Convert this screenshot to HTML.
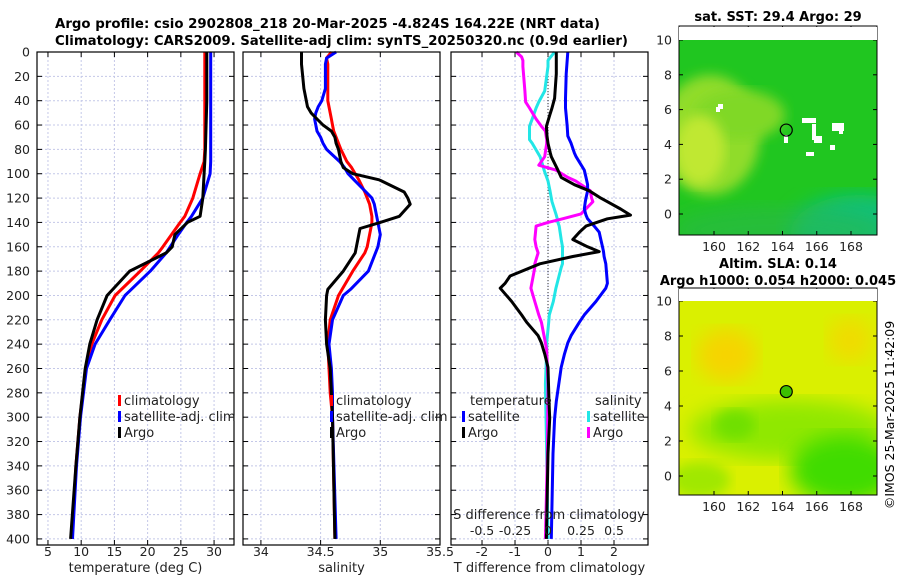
<!DOCTYPE html>
<html><head><meta charset="utf-8">
<style>
html,body{margin:0;padding:0;background:#fff;}
svg text{font-family:"DejaVu Sans","Liberation Sans",sans-serif;}
</style></head>
<body>
<svg id="chart" width="900" height="580" viewBox="0 0 900 580" xmlns="http://www.w3.org/2000/svg">
<defs>
<filter id="blur6"><feGaussianBlur stdDeviation="6"/></filter>
<filter id="blur10"><feGaussianBlur stdDeviation="10"/></filter>
<clipPath id="clipM1"><rect x="679" y="40" width="198" height="195"/></clipPath>
<clipPath id="clipM2"><rect x="679" y="301" width="198" height="194"/></clipPath>
</defs>
<text x="55" y="28" font-size="13.2" font-weight="bold" textLength="545" lengthAdjust="spacingAndGlyphs">Argo profile: csio 2902808_218 20-Mar-2025 -4.824S 164.22E (NRT data)</text>
<text x="55" y="45" font-size="13.2" font-weight="bold" textLength="573" lengthAdjust="spacingAndGlyphs">Climatology: CARS2009. Satellite-adj clim: synTS_20250320.nc (0.9d earlier)</text>
<g id="plots"></g>
<g id="maps"></g>
<text transform="translate(894,415) rotate(-90)" text-anchor="middle" font-size="12.5">©IMOS 25-Mar-2025 11:42:09</text>
</svg>
<script>
// ---------- data ----------
const tDepth   = [0,20,40,60,80,90,100,120,135,140,150,160,165,180,200,220,240,260,300,340,400];
const tClim    = [28.6,28.6,28.6,28.6,28.6,28.5,27.9,26.8,25.6,24.9,23.6,22.3,21.6,18.9,15.1,13.1,11.6,10.7,9.8,9.2,8.6];
const tSat     = [29.5,29.5,29.5,29.5,29.5,29.5,29.4,28.3,26.6,25.9,24.6,23.4,22.8,20.4,16.6,14.3,12.1,10.8,9.9,9.3,8.7];
const tArgo    = [28.9,28.9,28.9,28.8,28.7,28.6,28.5,28.3,27.9,26.0,24.1,23.7,22.8,17.3,13.9,12.4,11.3,10.6,9.8,9.2,8.4];

const sDepth   = [0,5,10,20,30,40,45,50,55,60,65,70,75,80,90,95,100,105,115,120,125,135,140,145,150,160,165,180,195,200,220,240,260,280,300,400];
const sClim    = [34.59,34.55,34.56,34.56,34.56,34.56,34.57,34.58,34.59,34.6,34.61,34.63,34.65,34.67,34.72,34.76,34.79,34.82,34.87,34.89,34.91,34.93,34.93,34.92,34.91,34.89,34.87,34.77,34.68,34.65,34.58,34.56,34.57,34.58,34.6,34.62];
const sSat     = [34.63,34.55,34.54,34.54,34.54,34.51,34.48,34.46,34.45,34.46,34.47,34.5,34.52,34.55,34.66,34.7,34.73,34.78,34.88,34.93,34.95,34.97,34.98,34.99,35.0,34.98,34.96,34.9,34.75,34.69,34.6,34.57,34.59,34.6,34.6,34.63];
const sArgo    = [34.34,34.34,34.34,34.35,34.36,34.38,34.39,34.42,34.47,34.52,34.59,34.62,34.63,34.65,34.67,34.69,34.77,34.99,35.2,35.23,35.25,35.16,35.0,34.83,34.82,34.8,34.79,34.69,34.56,34.55,34.54,34.55,34.58,34.59,34.6,34.62];

const dDepthT  = [0,18,38,46,52,61,69,75,83,86,97,103,109,114,120,123,129,134,137,143,148,154,160,164,168,174,184,190,194,205,216,222,233,239,248,259,287,301,330,400];
const dTSat    = [0.6,0.55,0.53,0.53,0.55,0.58,0.6,0.7,0.8,0.85,1.1,1.15,1.2,1.2,1.15,1.13,1.1,1.15,1.2,1.4,1.55,1.6,1.65,1.68,1.7,1.75,1.78,1.8,1.75,1.45,1.1,0.95,0.7,0.6,0.5,0.4,0.25,0.2,0.15,0.1];
const dTArgo   = [0.25,0.25,0.2,0.12,0.05,-0.05,-0.03,0,0.07,0.1,0.3,0.4,0.8,1.25,1.6,1.8,2.2,2.5,1.8,1.15,0.95,0.75,1.2,1.55,0.75,-0.25,-1.15,-1.3,-1.45,-1.1,-0.8,-0.65,-0.3,-0.2,-0.1,0,0.03,0.05,0.0,-0.05];
const dDepthS  = [0,4,7,12,32,41,46,55,61,65,72,75,86,93,97,103,106,114,120,123,133,137,140,143,154,160,165,174,177,194,205,216,222,239,245,273,330,400];
const dSSat    = [0.05,0.02,0,0,-0.025,-0.07,-0.09,-0.12,-0.14,-0.14,-0.14,-0.12,-0.06,-0.04,-0.03,-0.01,0,0.015,0.025,0.03,0.06,0.07,0.075,0.085,0.1,0.11,0.11,0.11,0.1,0.06,0.04,0.01,0.005,-0.01,-0.01,-0.02,-0.01,0];
const dSArgo   = [-0.24,-0.2,-0.19,-0.19,-0.175,-0.17,-0.14,-0.09,-0.05,-0.02,-0.01,-0.01,-0.025,-0.07,0.06,0.15,0.21,0.32,0.33,0.34,0.25,0.11,0.0,-0.09,-0.1,-0.09,-0.075,-0.1,-0.1,-0.13,-0.1,-0.07,-0.05,-0.02,-0.01,0,-0.005,-0.02];

const depthTicks = [0,20,40,60,80,100,120,140,160,180,200,220,240,260,280,300,320,340,360,380,400];
const tTicks = [5,10,15,20,25,30];
const sTicks = [34,34.5,35,35.5];
const tdTicks = [-2,-1,0,1,2];
const tdLabels = ["-2","-1","0","1","2"];
const sdTicks = [-0.5,-0.25,0,0.25,0.5];
const sdLabels = ["-0.5","-0.25","0","0.25","0.5"];
const latTicks = [0,2,4,6,8,10];
const lonTicks = [160,162,164,166,168];
const argoLon = 164.22, argoLat = -4.824;

// ---------- helpers ----------
const NS = "http://www.w3.org/2000/svg";
function mk(tag, attrs, parent){const e=document.createElementNS(NS,tag);for(const k in attrs)e.setAttribute(k,attrs[k]);parent.appendChild(e);return e;}
const TOP=52, BOT=545, DMAX=405;
const yD = d => TOP + d*(BOT-TOP)/DMAX;
function xScale(x0,x1,v0,v1){return v=> x0+(v-v0)*(x1-x0)/(v1-v0);}
const plots=document.getElementById('plots');

function panel(name,x0,x1,v0,v1,ticks,labels,xlabel){
  const g=mk('g',{},plots);
  
  
  const xs=xScale(x0,x1,v0,v1);
  ticks.forEach(t=>{const x=xs(t);if(x>x0+1&&x<x1-1){const l=mk('line',{x1:x,x2:x,y1:TOP,y2:BOT,stroke:'#c4c8e8','stroke-width':1,'stroke-dasharray':'2,2'},g);}});
  depthTicks.forEach(d=>{const y=yD(d);if(y>TOP+1){const l=mk('line',{x1:x0,x2:x1,y1:y,y2:y,stroke:'#c4c8e8','stroke-width':1,'stroke-dasharray':'2,2'},g);}
    mk('line',{x1:x0,x2:x0+5,y1:y,y2:y,stroke:'#000'},g);mk('line',{x1:x1,x2:x1-5,y1:y,y2:y,stroke:'#000'},g);});
  ticks.forEach((t,i)=>{const x=xs(t);mk('line',{x1:x,x2:x,y1:BOT,y2:BOT-5,stroke:'#000'},g);mk('line',{x1:x,x2:x,y1:TOP,y2:TOP+5,stroke:'#000'},g);
    const tx=mk('text',{x:x,y:556,'font-size':12.5,'text-anchor':'middle',fill:'#222'},g);tx.textContent=labels[i];
    });
  const xl=mk('text',{x:(x0+x1)/2,y:572,'font-size':13,'text-anchor':'middle',fill:'#222'},g);xl.textContent=xlabel;
  
  return {g,xs};
}
function box(g,x0,x1){const r=mk('rect',{x:x0,y:TOP,width:x1-x0,height:BOT-TOP,fill:'none',stroke:'#000','stroke-width':1.2},g);}
function line(g,xs,depths,vals,color,name){
  const pts=depths.map((d,i)=>xs(vals[i]).toFixed(1)+','+yD(d).toFixed(1)).join(' ');
  const p=mk('polyline',{points:pts,fill:'none',stroke:color,'stroke-width':3,'stroke-linejoin':'round'},g);
  
  
}
function legend(g,x,y,color,label){
  mk('rect',{x:x,y:y-10,width:3,height:11,fill:color},g);
  const t=mk('text',{x:x+6,y:y,'font-size':13,fill:'#222'},g);t.textContent=label;
  
  
}

// Panel 1 temperature
const p1=panel('temperature-panel',37,234,3.35,33,tTicks,tTicks.map(String),'temperature (deg C)');
depthTicks.forEach(d=>{const t=mk('text',{x:30,y:yD(d)+4.5,'font-size':12.5,'text-anchor':'end',fill:'#222'},p1.g);t.textContent=d;
  });
line(p1.g,p1.xs,tDepth,tClim,'#ff0000','temp-climatology-line');
line(p1.g,p1.xs,tDepth,tSat,'#0000ff','temp-satellite-line');
line(p1.g,p1.xs,tDepth,tArgo,'#000000','temp-argo-line');
box(p1.g,37,234);
legend(p1.g,118,405,'#ff0000','climatology');
legend(p1.g,118,421,'#0000ff','satellite-adj. clim');
legend(p1.g,118,437,'#000000','Argo');

// Panel 2 salinity
const p2=panel('salinity-panel',243,440,33.85,35.5,sTicks,sTicks.map(String),'salinity');
line(p2.g,p2.xs,sDepth,sClim,'#ff0000','sal-climatology-line');
line(p2.g,p2.xs,sDepth,sSat,'#0000ff','sal-satellite-line');
line(p2.g,p2.xs,sDepth,sArgo,'#000000','sal-argo-line');
box(p2.g,243,440);
legend(p2.g,330,405,'#ff0000','climatology');
legend(p2.g,330,421,'#0000ff','satellite-adj. clim');
legend(p2.g,330,437,'#000000','Argo');

// Panel 3 differences
const p3=panel('difference-panel',451,648,-2.94,3.03,tdTicks,tdLabels,'T difference from climatology');
const xsS = v=>p3.xs(v*4);
const zl=mk('line',{x1:p3.xs(0),x2:p3.xs(0),y1:TOP,y2:BOT,stroke:'#333','stroke-width':1,'stroke-dasharray':'1,2'},p3.g);

line(p3.g,xsS,dDepthS,dSSat,'#22e6e6','sdiff-satellite-line');
line(p3.g,xsS,dDepthS,dSArgo,'#ff00ff','sdiff-argo-line');
line(p3.g,p3.xs,dDepthT,dTSat,'#0000ff','tdiff-satellite-line');
line(p3.g,p3.xs,dDepthT,dTArgo,'#000000','tdiff-argo-line');
box(p3.g,451,648);
const st=mk('text',{x:549,y:519,'font-size':13,'text-anchor':'middle',fill:'#222'},p3.g);st.textContent='S difference from climatology';

sdTicks.forEach((t,i)=>{const tx=mk('text',{x:xsS(t),y:535,'font-size':12.5,'text-anchor':'middle',fill:'#222'},p3.g);tx.textContent=sdLabels[i];
  });
const th=mk('text',{x:470,y:405,'font-size':13,fill:'#222'},p3.g);th.textContent='temperature';

const sh=mk('text',{x:595,y:405,'font-size':13,fill:'#222'},p3.g);sh.textContent='salinity';

legend(p3.g,462,421,'#0000ff','satellite');
legend(p3.g,462,437,'#000000','Argo');
legend(p3.g,587,421,'#22e6e6','satellite');
legend(p3.g,587,437,'#ff00ff','Argo');

// ---------- maps ----------
const maps=document.getElementById('maps');
function mapAxes(name,top,bot,lat10y,lat0y,title,clip,shapes,circleFill){
  const g=mk('g',{},maps);
  
  
  const x0=679,x1=877;
  const lx=xScale(714,851,160,168), ly=v=>lat0y+(lat10y-lat0y)*v/10;
  const body=mk('g',{'clip-path':'url(#'+clip+')'},g);
  shapes(body,lx,ly);
  latTicks.forEach(t=>{const y=ly(t);mk('line',{x1:x0,x2:x0+4,y1:y,y2:y,stroke:'#000'},g);mk('line',{x1:x1,x2:x1-4,y1:y,y2:y,stroke:'#000'},g);
    const tx=mk('text',{x:672,y:y+4.5,'font-size':12.5,'text-anchor':'end',fill:'#222'},g);tx.textContent=t;
    });
  lonTicks.forEach(t=>{const x=lx(t);mk('line',{x1:x,x2:x,y1:bot,y2:bot-4,stroke:'#000'},g);mk('line',{x1:x,x2:x,y1:top,y2:top+4,stroke:'#000'},g);
    const tx=mk('text',{x:x,y:bot+16,'font-size':12.5,'text-anchor':'middle',fill:'#222'},g);tx.textContent=t;
    });
  const c=mk('circle',{cx:lx(argoLon),cy:ly(-argoLat),r:6,fill:circleFill,stroke:'#000','stroke-width':1.2},g);
  
  mk('rect',{x:x0,y:top,width:x1-x0,height:bot-top,fill:'none',stroke:'#000','stroke-width':1},g);
  title.forEach((tt,i)=>{const t=mk('text',{x:778,y:tt[1],'font-size':13,'font-weight':'bold','text-anchor':'middle'},g);t.textContent=tt[0];
    });
}
mapAxes('sst-map',26,235,40,214,[['sat. SST: 29.4 Argo: 29',21]],'clipM1',(b,lx,ly)=>{
  mk('rect',{x:679,y:40,width:198,height:195,fill:'#20c620'},b);
  mk('ellipse',{cx:710,cy:135,rx:50,ry:60,fill:'#90dc2c',filter:'url(#blur6)'},b);
  mk('ellipse',{cx:740,cy:115,rx:45,ry:25,fill:'#80d828',filter:'url(#blur6)'},b);
  mk('ellipse',{cx:700,cy:150,rx:25,ry:35,fill:'#c0e830',filter:'url(#blur6)'},b);
  mk('ellipse',{cx:860,cy:235,rx:70,ry:40,fill:'#10c080',filter:'url(#blur10)'},b);
  mk('ellipse',{cx:780,cy:230,rx:110,ry:25,fill:'#2cb84c',filter:'url(#blur10)',opacity:0.6},b);
  [[802,118,14,5],[812,124,4,16],[832,123,12,8],[839,124,4,10],[814,136,8,7],[806,152,8,4],[830,145,5,5],[718,104,5,5],[716,107,4,5],[784,135,4,8]].forEach(r=>mk('rect',{x:r[0],y:r[1],width:r[2],height:r[3],fill:'#fff'},b));
}, 'none');
mapAxes('sla-map',288,495,301,476,[['Altim. SLA: 0.14',268],['Argo h1000: 0.054 h2000: 0.045',285]],'clipM2',(b,lx,ly)=>{
  mk('rect',{x:679,y:301,width:198,height:194,fill:'#daf000'},b);
  mk('ellipse',{cx:727,cy:355,rx:30,ry:26,fill:'#f6d400',filter:'url(#blur10)'},b);
  mk('ellipse',{cx:850,cy:340,rx:22,ry:22,fill:'#f0dc00',filter:'url(#blur10)'},b);
  mk('ellipse',{cx:790,cy:430,rx:100,ry:30,fill:'#90e800',filter:'url(#blur10)'},b);
  mk('ellipse',{cx:845,cy:470,rx:55,ry:35,fill:'#40dc00',filter:'url(#blur10)'},b);
  mk('ellipse',{cx:735,cy:425,rx:20,ry:15,fill:'#70e000',filter:'url(#blur6)'},b);
  mk('ellipse',{cx:700,cy:480,rx:30,ry:18,fill:'#a0e800',filter:'url(#blur6)'},b);
}, '#3cc000');
[[679,26,198,14],[679,288,198,13]].forEach(r=>{const e=mk('rect',{x:r[0],y:r[1]+1,width:r[2],height:r[3]-1,fill:'#fff'},maps);});
</script>
</body></html>
